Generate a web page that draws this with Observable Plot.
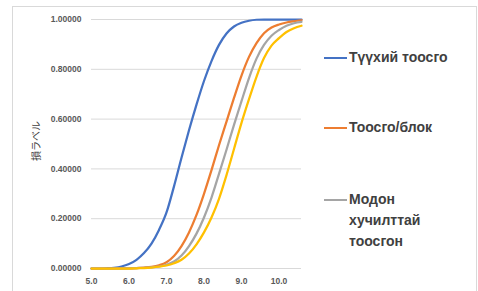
<!DOCTYPE html>
<html><head><meta charset="utf-8">
<script src="https://cdn.jsdelivr.net/npm/d3@7"></script>
<script src="https://cdn.jsdelivr.net/npm/@observablehq/plot@0.6"></script>
<style>
body{margin:0;background:#fff;}
#wrap{position:relative;width:478px;height:291px;overflow:hidden;font-family:"Liberation Sans",Arial,sans-serif;}
#border{position:absolute;left:12px;top:6px;width:465px;height:320px;border:1px solid #d9d9d9;box-sizing:border-box;}
#chart{position:absolute;left:0;top:0;}
.item{position:absolute;left:324px;font-weight:bold;font-size:14px;line-height:21px;color:#404040;}
.sw{position:absolute;left:0;width:23px;height:2px;}
.lbl{position:absolute;left:25px;white-space:nowrap;}
</style></head>
<body>
<div id="wrap"><div id="border"></div><div id="chart"></div><div id="legend"></div></div>
<script>
const xs = [5.0,5.2,5.4,5.6,5.8,6.0,6.2,6.4,6.6,6.8,7.0,7.2,7.4,7.6,7.8,8.0,8.2,8.4,8.6,8.8,9.0,9.2,9.4,9.6,9.8,10.0,10.2,10.4,10.6];
const blue   = [0,0,0.001,0.003,0.008,0.018,0.035,0.062,0.10,0.155,0.225,0.33,0.445,0.555,0.658,0.753,0.833,0.898,0.944,0.972,0.987,0.995,0.999,1,1,1,1,1,1];
const orange = [0,0,0,0,0.001,0.001,0.002,0.004,0.007,0.013,0.025,0.05,0.09,0.145,0.215,0.30,0.395,0.495,0.59,0.685,0.775,0.85,0.905,0.945,0.968,0.98,0.988,0.993,0.997];
const gray   = [0,0,0,0,0,0.001,0.002,0.003,0.005,0.008,0.015,0.028,0.052,0.09,0.14,0.205,0.285,0.38,0.477,0.577,0.672,0.765,0.843,0.898,0.935,0.958,0.975,0.985,0.99];
const yellow = [0,0,0,0,0,0,0.001,0.002,0.004,0.007,0.012,0.021,0.035,0.06,0.097,0.145,0.205,0.28,0.375,0.48,0.585,0.68,0.77,0.845,0.895,0.925,0.95,0.965,0.975];
const seriesNames = ["Түүхий тоосго","Тоосго/блок","Модон хучилттай тоосгон","(4)"];
const legendLines = [["Түүхий тоосго"],["Тоосго/блок"],["Модон","хучилттай","тоосгон"]];
const colors = ["#4472C4","#ED7D31","#A5A5A5","#FFC000"];
const xTicks = [5,6,7,8,9,10];
const yTicks = [0,0.2,0.4,0.6,0.8,1.0];
const yTitle = "損ラベル";

const allSeries = [blue, orange, gray, yellow];
const data = allSeries.flatMap((vals, i) => vals.map((v, j) => ({x: xs[j], y: v, s: seriesNames[i]})));

const chart = Plot.plot({
  width: 478, height: 291,
  marginTop: 19, marginBottom: 23, marginLeft: 91, marginRight: 177,
  x: {domain: [5, 10.6]},
  y: {domain: [0, 1]},
  color: {domain: seriesNames, range: colors},
  style: {fontFamily: '"Liberation Sans", Arial, "Noto Sans CJK JP", sans-serif', background: "transparent"},
  marks: [
    Plot.gridY(yTicks, {stroke: "#d9d9d9", strokeOpacity: 1, strokeWidth: 1}),
    Plot.axisY(yTicks, {tickSize: 0, tickPadding: 10, tickFormat: d3.format(".5f"), fontSize: 8.5, fontWeight: "bold", fill: "#595959", label: null}),
    Plot.axisX(xTicks, {tickSize: 0, tickPadding: 9, tickFormat: d3.format(".1f"), fontSize: 8.5, fontWeight: "bold", fill: "#595959", label: null}),
    Plot.text([yTitle], {frameAnchor: "left", textAnchor: "middle", dx: -55, dy: -3, rotate: -90, fontSize: 10, fill: "#404040", fontFamily: '"Noto Sans CJK JP", sans-serif'}),
    Plot.line(data, {x: "x", y: "y", z: "s", stroke: "s", strokeWidth: 2.25, curve: "monotone-x"})
  ]
});
document.getElementById("chart").appendChild(chart);

const legend = document.getElementById("legend");
const tops = [47, 117, 189];
legendLines.forEach((lines, i) => {
  const it = document.createElement("div");
  it.className = "item";
  it.style.top = tops[i] + "px";
  const sw = document.createElement("div");
  sw.className = "sw"; sw.style.background = colors[i]; sw.style.top = "10px";
  it.appendChild(sw);
  const lb = document.createElement("div");
  lb.className = "lbl"; lb.innerHTML = lines.join("<br>");
  it.appendChild(lb);
  legend.appendChild(it);
});
</script>
</body></html>
